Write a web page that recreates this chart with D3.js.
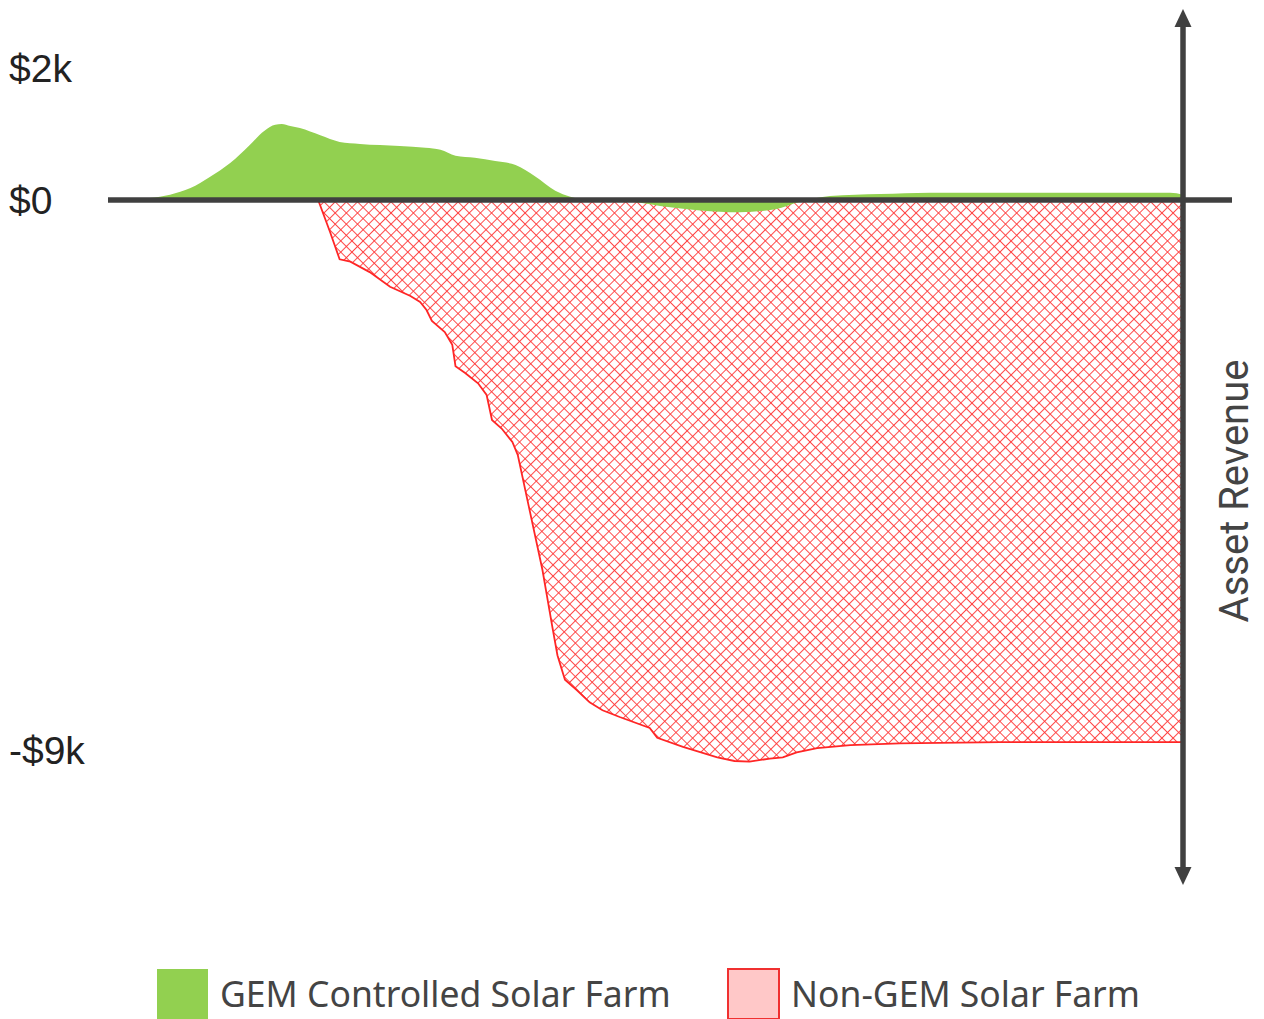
<!DOCTYPE html>
<html>
<head>
<meta charset="utf-8">
<script src="https://cdn.jsdelivr.net/npm/d3@7"></script>
<style>
  body { margin: 0; background: #fff; }
</style>
</head>
<body>
<div id="chart"></div>
<script>
// time steps (0-100) and revenue in $k for each series
var gemTime = [0, 1.9, 3.7, 5.6, 7.5, 9.3, 11.2, 13.0, 14.4, 15.4, 16.0, 16.8, 17.7, 19.6, 21.4, 23.3, 27.0, 29.4, 30.8, 32.2, 34.0, 35.9, 37.8, 39.6, 41.5, 42.9, 44.3, 48.5, 52.2, 55.0, 58.7, 62.0, 64.3, 67.1, 71.8, 76.4, 92.3, 98.8, 100];
var gemValue = [0, 0.01, 0.03, 0.08, 0.18, 0.35, 0.56, 0.83, 1.05, 1.14, 1.15, 1.12, 1.09, 0.98, 0.88, 0.85, 0.82, 0.79, 0.76, 0.67, 0.64, 0.59, 0.53, 0.36, 0.14, 0.05, 0, -0.03, -0.12, -0.17, -0.2, -0.15, -0.03, 0.06, 0.09, 0.11, 0.11, 0.11, 0.08];

var nonGemTime = [19.4, 20.5, 21.4, 22.4, 24.2, 26.1, 28.0, 28.9, 29.5, 30.0, 31.2, 31.9, 32.2, 33.1, 34.3, 35.1, 35.6, 36.5, 37.5, 38.0, 39.1, 40.3, 41.2, 41.7, 42.4, 43.5, 44.7, 45.9, 47.5, 50.3, 51.0, 53.4, 56.6, 58.2, 59.6, 61.5, 62.7, 64.0, 65.9, 69.0, 73.6, 83.0, 100];
var nonGemValue = [0, -0.52, -0.97, -1.01, -1.18, -1.42, -1.57, -1.67, -1.8, -1.98, -2.16, -2.37, -2.72, -2.83, -3.0, -3.19, -3.6, -3.74, -3.96, -4.17, -5.07, -6.05, -6.96, -7.45, -7.85, -8.02, -8.22, -8.35, -8.46, -8.64, -8.8, -8.95, -9.12, -9.18, -9.19, -9.14, -9.12, -9.04, -8.97, -8.92, -8.89, -8.87, -8.87];

var tickValues = [2, 0, -9];
var tickLabels = ["$2k", "$0", "-$9k"];
var legendLabels = ["GEM Controlled Solar Farm", "Non-GEM Solar Farm"];

function init() {
  var w = 1264;
  var h = 1019;

  var svg = d3.select("#chart")
    .append("svg")
    .attr("width", w)
    .attr("height", h);

  // x runs across the plot, y is piecewise so the labels sit where the picture has them
  var xScale = d3.scaleLinear().domain([0, 100]).range([110, 1183]);
  var yScale = d3.scaleLinear().domain([-9, 0, 2]).range([750, 200, 68]);

  var gemData = gemTime.map(function(t, i) { return { t: t, v: gemValue[i] }; });
  var nonGemData = nonGemTime.map(function(t, i) { return { t: t, v: nonGemValue[i] }; });

  // cross hatch pattern for the non-GEM area
  var defs = svg.append("defs");
  var tile = 7.9;
  var pat = defs.append("pattern")
    .attr("id", "hatch")
    .attr("patternUnits", "userSpaceOnUse")
    .attr("width", tile)
    .attr("height", tile)
    .attr("patternTransform", "rotate(45)");
  pat.append("rect").attr("width", tile).attr("height", tile).attr("fill", "#fff");
  pat.append("line").attr("x1", 0).attr("y1", 0).attr("x2", 0).attr("y2", tile)
    .attr("stroke", "#ff3838").attr("stroke-width", 1.8);
  pat.append("line").attr("x1", 0).attr("y1", 0).attr("x2", tile).attr("y2", 0)
    .attr("stroke", "#ff3838").attr("stroke-width", 1.8);

  var redArea = d3.area()
    .x(function(d) { return xScale(d.t); })
    .y0(yScale(0))
    .y1(function(d) { return yScale(d.v); });

  svg.append("path")
    .datum(nonGemData)
    .attr("d", redArea)
    .attr("fill", "url(#hatch)")
    .attr("stroke", "#ff2626")
    .attr("stroke-width", 1.8);

  var greenArea = d3.area()
    .x(function(d) { return xScale(d.t); })
    .y0(yScale(0))
    .y1(function(d) { return yScale(d.v); })
    .curve(d3.curveMonotoneX);

  svg.append("path")
    .datum(gemData)
    .attr("d", greenArea)
    .attr("fill", "#92d050");

  // axes
  var axisColor = "#404040";
  var xAxisY = yScale(0);
  var yAxisX = xScale(100);

  svg.append("line")
    .attr("x1", 108).attr("x2", 1232)
    .attr("y1", xAxisY).attr("y2", xAxisY)
    .attr("stroke", axisColor).attr("stroke-width", 5.5);

  svg.append("line")
    .attr("x1", yAxisX).attr("x2", yAxisX)
    .attr("y1", 24).attr("y2", 869)
    .attr("stroke", axisColor).attr("stroke-width", 5.5);

  // arrow heads
  svg.append("path")
    .attr("d", "M" + yAxisX + ",9 L" + (yAxisX + 8.5) + ",27 L" + (yAxisX - 8.5) + ",27 Z")
    .attr("fill", axisColor);
  svg.append("path")
    .attr("d", "M" + yAxisX + ",885 L" + (yAxisX + 8.5) + ",867 L" + (yAxisX - 8.5) + ",867 Z")
    .attr("fill", axisColor);

  // tick labels
  svg.selectAll("text.tick")
    .data(tickValues)
    .enter()
    .append("text")
    .attr("class", "tick")
    .attr("x", 9)
    .attr("y", function(d) { return yScale(d); })
    .attr("dy", "0.36em")
    .attr("font-family", "'Liberation Sans', Arial, sans-serif")
    .attr("font-size", 39)
    .attr("fill", "#222")
    .text(function(d, i) { return tickLabels[i]; });

  svg.append("text")
    .attr("transform", "translate(1248,491) rotate(-90)")
    .attr("text-anchor", "middle")
    .attr("font-family", "Roboto, sans-serif")
    .attr("font-size", 40)
    .attr("fill", "#444")
    .text("Asset Revenue");

  // legend
  var legend = [
    { x: 157, fill: "#92d050", stroke: "none", label: legendLabels[0] },
    { x: 728, fill: "#ffc8c8", stroke: "#f03030", label: legendLabels[1] }
  ];
  var lg = svg.selectAll("g.legend")
    .data(legend)
    .enter()
    .append("g")
    .attr("class", "legend")
    .attr("transform", function(d) { return "translate(" + d.x + ",969)"; });
  lg.append("rect")
    .attr("width", 51).attr("height", 50)
    .attr("fill", function(d) { return d.fill; })
    .attr("stroke", function(d) { return d.stroke; })
    .attr("stroke-width", 2);
  lg.append("text")
    .attr("x", 63)
    .attr("y", 38)
    .attr("font-family", "'Noto Sans', sans-serif")
    .attr("font-size", 35.5)
    .attr("fill", "#444")
    .text(function(d) { return d.label; });
}

window.onload = init;
</script>
</body>
</html>
